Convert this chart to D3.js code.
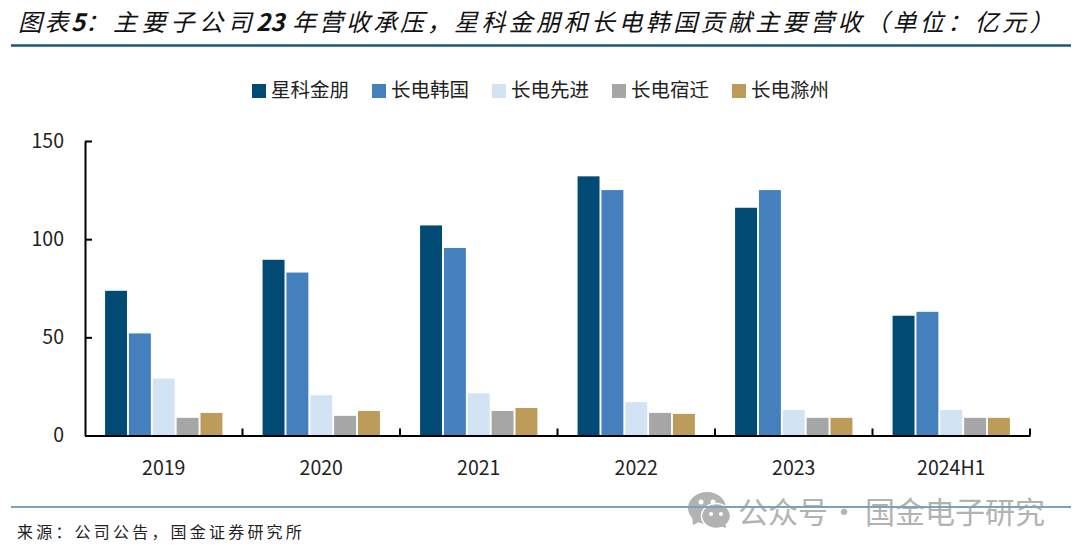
<!DOCTYPE html>
<html lang="zh">
    <head>
        <meta charset="utf-8">
        <title>主要子公司营收</title>
        <script type="text/javascript" src="https://d3js.org/d3.v7.min.js"></script>
        <style type="text/css">
            html, body { margin: 0; padding: 0; background: #fff; }
            svg { display: block; }
            text { font-family: "Noto Sans CJK SC", "Noto Sans", sans-serif; }
        </style>
    </head>
    <body>
        <script type="text/javascript">

        //Data
        const years = ["2019", "2020", "2021", "2022", "2023", "2024H1"];
        const seriesNames = ["星科金朋", "长电韩国", "长电先进", "长电宿迁", "长电滁州"];
        const xingke = [73.7, 89.5, 107, 132, 116, 61];
        const korea = [52, 83, 95.5, 125, 125, 63];
        const advanced = [29, 20.5, 21.5, 17, 13, 13];
        const suqian = [9, 10, 12.5, 11.5, 9, 9];
        const chuzhou = [11.5, 12.5, 14, 11, 9, 9];
        const yTicks = [0, 50, 100, 150];

        const allSeries = [xingke, korea, advanced, suqian, chuzhou];
        const colors = ["#004a73", "#4480be", "#d2e4f3", "#a6a6a6", "#bd9c5a"];

        const width = 1080;
        const height = 556;
        const plotLeft = 85, plotRight = 1030, plotTop = 141, plotBottom = 435.5;

        const svg = d3.select("body").append("svg")
            .attr("width", width)
            .attr("height", height);

        //Scales
        const xScale = d3.scaleBand().domain(years).range([plotLeft, plotRight]);
        const groupWidth = xScale.bandwidth() * 0.745;
        const innerScale = d3.scaleBand()
            .domain(d3.range(seriesNames.length))
            .range([0, groupWidth])
            .paddingInner(0.08);
        const yScale = d3.scaleLinear().domain([0, 150]).range([plotBottom, plotTop]);

        //Title, set in chunks because the digits and the CJK run at different pitch
        const titleParts = [
            {t: "图表", x: 18, ls: 2.5},
            {t: "5", x: 71, ls: 0, bold: true},
            {t: "：", x: 85, ls: 0},
            {t: "主要子公司", x: 113, ls: 4.7},
            {t: "23", x: 256, ls: 0, bold: true},
            {t: "年营收承压，", x: 292, ls: 3},
            {t: "星科金朋和长电韩国贡献主要营收（单位：亿元）", x: 454, ls: 3.4}
        ];
        svg.append("text")
            .attr("y", 31)
            .attr("font-size", 24)
            .attr("font-style", "italic")
            .attr("fill", "#111")
            .selectAll("tspan")
            .data(titleParts)
            .enter()
            .append("tspan")
            .attr("x", d => d.x)
            .attr("letter-spacing", d => d.ls)
            .attr("font-weight", d => d.bold ? 700 : 400)
            .text(d => d.t);

        svg.append("line")
            .attr("x1", 11).attr("x2", 1071).attr("y1", 45.5).attr("y2", 45.5)
            .attr("stroke", "#1a5878").attr("stroke-width", 2.4);

        //Legend
        const legendX = [252, 372, 492, 612, 732];
        const legend = svg.selectAll("g.legend")
            .data(seriesNames)
            .enter()
            .append("g")
            .attr("class", "legend")
            .attr("transform", (d, i) => "translate(" + legendX[i] + ",84)");
        legend.append("rect")
            .attr("width", 14).attr("height", 14)
            .attr("fill", (d, i) => colors[i]);
        legend.append("text")
            .attr("x", 19).attr("y", 13)
            .attr("font-size", 19.5)
            .attr("fill", "#222")
            .text(d => d);

        //Bars
        const groups = svg.selectAll("g.group")
            .data(years)
            .enter()
            .append("g")
            .attr("class", "group")
            .attr("transform", d => "translate(" + (xScale(d) + (xScale.bandwidth() - groupWidth) / 2) + ",0)");
        groups.selectAll("rect")
            .data((d, i) => allSeries.map(s => s[i]))
            .enter()
            .append("rect")
            .attr("x", (d, i) => innerScale(i))
            .attr("y", d => yScale(d))
            .attr("width", innerScale.bandwidth())
            .attr("height", d => plotBottom - yScale(d))
            .attr("fill", (d, i) => colors[i]);

        //Axes
        const yAxis = svg.append("g")
            .attr("transform", "translate(" + plotLeft + ",0)")
            .call(d3.axisLeft(yScale).tickValues(yTicks).tickSizeInner(-7).tickSizeOuter(0).tickPadding(21));
        yAxis.selectAll("text").attr("font-size", 19.5).attr("fill", "#222");
        yAxis.selectAll("line, path").attr("stroke", "#000").attr("stroke-width", 2);

        const xAxis = svg.append("g")
            .attr("transform", "translate(0," + plotBottom + ")")
            .call(d3.axisBottom(xScale).tickSize(0).tickPadding(26));
        xAxis.selectAll("text").attr("font-size", 19.5).attr("fill", "#222");
        xAxis.select("path").attr("stroke", "#000").attr("stroke-width", 2);

        //Separators between the groups
        svg.selectAll("line.sep")
            .data(years)
            .enter()
            .append("line")
            .attr("class", "sep")
            .attr("x1", d => xScale(d) + xScale.step())
            .attr("x2", d => xScale(d) + xScale.step())
            .attr("y1", plotBottom)
            .attr("y2", plotBottom - 7)
            .attr("stroke", "#000")
            .attr("stroke-width", 2);

        //Source
        svg.append("text")
            .attr("x", 17).attr("y", 538)
            .attr("font-size", 16)
            .attr("letter-spacing", 3.2)
            .attr("fill", "#222")
            .text("来源：公司公告，国金证券研究所");

        //Watermark
        const mark = svg.append("g").attr("fill", "#b2b2b2");
        mark.append("ellipse").attr("cx", 707).attr("cy", 508).attr("rx", 19).attr("ry", 16);
        mark.append("path").attr("d", "M692,516 L693,525 L703,520 Z");
        mark.append("ellipse").attr("cx", 716).attr("cy", 516).attr("rx", 14.5).attr("ry", 12.5)
            .attr("stroke", "#fff").attr("stroke-width", 1.5);
        mark.append("path").attr("d", "M720,526 L726,528 L725,520 Z");
        svg.append("g").attr("fill", "#fff").selectAll("circle")
            .data([[701, 502, 2.5], [713, 502, 2.5], [711, 514, 2], [721, 514, 2]])
            .enter().append("circle")
            .attr("cx", d => d[0]).attr("cy", d => d[1]).attr("r", d => d[2]);
        svg.append("text")
            .attr("y", 523)
            .attr("font-size", 30)
            .attr("fill", "#b2b2b2")
            .selectAll("tspan")
            .data([{t: "公众号", x: 738}, {t: "·", x: 829}, {t: "国金电子研究", x: 865}])
            .enter()
            .append("tspan")
            .attr("x", d => d.x)
            .text(d => d.t);

        svg.append("line")
            .attr("x1", 11).attr("x2", 1071).attr("y1", 507).attr("y2", 507)
            .attr("stroke", "#7aa3b6").attr("stroke-width", 2);

        </script>
    </body>
</html>
